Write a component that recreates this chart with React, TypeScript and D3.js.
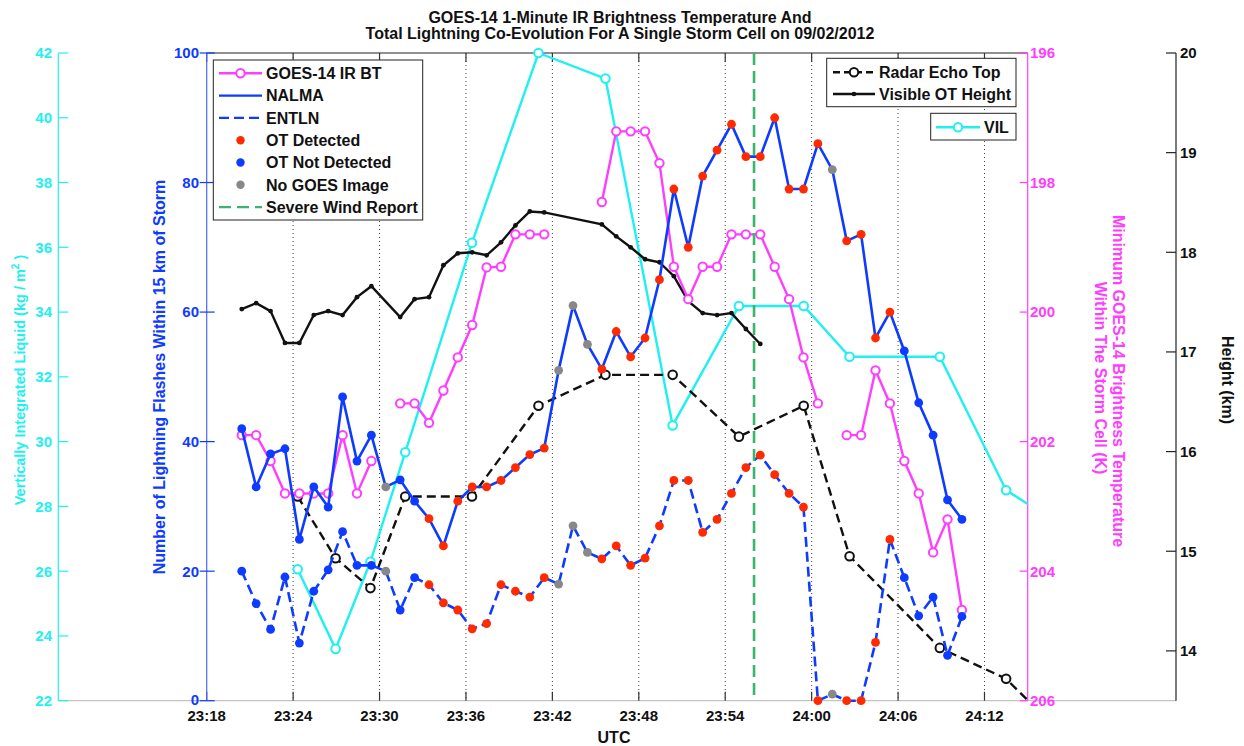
import React from 'react';
import * as d3 from 'd3';

// ---------- DATA ----------
const xTickLabels = ["23:18","23:24","23:30","23:36","23:42","23:48","23:54","24:00","24:06","24:12"];

// 1-minute GOES / lightning times
const minuteTimes = [
  "23:20:26","23:21:26","23:22:26","23:23:26","23:24:26","23:25:26","23:26:26","23:27:26","23:28:26","23:29:26",
  "23:30:26","23:31:26","23:32:26","23:33:26","23:34:26","23:35:26","23:36:26","23:37:26","23:38:26","23:39:26",
  "23:40:26","23:41:26","23:42:26","23:43:26","23:44:26","23:45:26","23:46:26","23:47:26","23:48:26","23:49:26",
  "23:50:26","23:51:26","23:52:26","23:53:26","23:54:26","23:55:26","23:56:26","23:57:26","23:58:26","23:59:26",
  "24:00:26","24:01:26","24:02:26","24:03:26","24:04:26","24:05:26","24:06:26","24:07:26","24:08:26","24:09:26",
  "24:10:26"
];

const nalma = [42.0,33.0,38.1,38.9,24.9,33.0,29.9,46.9,37.0,41.0,
  33.0,34.1,30.8,28.1,23.9,30.8,33.0,33.0,34.0,36.0,
  38.0,39.0,51.0,61.0,55.0,51.2,57.0,53.1,56.0,65.0,
  79.0,70.0,81.0,85.0,89.0,84.0,84.0,90.0,79.0,79.0,
  86.0,82.0,71.0,72.0,56.0,60.0,54.0,46.0,41.0,31.0,28.0];

const entln = [20.0,15.0,11.0,19.1,8.9,16.9,20.2,26.1,20.9,20.9,
  20.0,14.0,19.0,17.9,15.1,14.0,11.1,11.9,17.9,16.9,
  16.0,19.0,18.0,27.0,22.9,21.9,23.9,20.9,22.0,27.0,
  34.0,34.0,26.0,28.0,32.0,36.0,37.9,34.9,32.0,29.9,
  0.0,1.0,0.0,0.0,9.0,24.9,19.0,13.1,16.0,7.0,13.0];

// R = OT detected, B = OT not detected, G = no GOES image
const otStatus = ["B","B","B","B","B","B","B","B","B","B",
  "G","B","B","R","R","R","R","R","R","R",
  "R","R","G","G","G","R","R","R","R","R",
  "R","R","R","R","R","R","R","R","R","R",
  "R","G","R","R","R","R","B","B","B","B","B"];

const goesBT = [201.9,201.9,202.3,202.8,202.8,202.8,202.8,201.9,202.8,202.3,
  null,201.41,201.41,201.71,201.21,200.7,200.2,199.31,199.3,198.8,
  198.8,198.8,null,null,null,198.3,197.21,197.21,197.21,197.7,
  199.3,199.8,199.3,199.3,198.8,198.8,198.8,199.3,199.8,200.7,
  201.41,null,201.9,201.9,200.9,201.41,202.3,202.8,203.71,203.2,204.6];

const visibleOT = [17.43,17.49,17.41,17.09,17.09,17.37,17.41,17.37,17.55,17.66,
  null,17.35,17.53,17.55,17.87,17.99,18.0,17.97,18.10,18.27,
  18.41,18.40,null,null,null,18.28,18.16,18.05,17.93,17.90,
  17.76,17.51,17.39,17.37,17.39,17.23,17.08];

const radarTimes = ["23:24:19","23:26:57","23:29:22","23:31:47","23:36:25","23:41:02","23:45:41",
  "23:50:21","23:54:57","23:59:27","24:02:38","24:08:54","24:13:30","24:18:06"];
const echoTop = [15.55,14.93,14.63,15.55,15.55,16.46,16.77,16.77,16.15,16.46,14.95,14.03,13.72,13.06];
const vil = [26.06,23.6,26.29,29.67,36.14,42.0,41.21,30.5,34.19,34.19,32.62,32.62,28.5,27.2];

const windReportTime = "23:56:00";

const vilTicks = [22,24,26,28,30,32,34,36,38,40,42];
const flashTicks = [0,20,40,60,80,100];
const btTicks = [196,198,200,202,204,206];
const heightTicks = [14,15,16,17,18,19,20];

// ---------- STYLE ----------
const FONT = "'Liberation Sans', Arial, Helvetica, sans-serif";
const C_MAG = "#ff3dff";
const C_CYAN = "#1ff0f0";
const C_BLUE = "#0d3bff";
const C_RED = "#ff2a00";
const C_GRAY = "#888888";
const C_GREEN = "#3cb46e";
const statusColor: Record<string,string> = { R: C_RED, B: C_BLUE, G: C_GRAY };

function toMin(s: string) {
  const [h, m, sec] = s.split(":").map(Number);
  return h * 60 + m + (sec || 0) / 60 - (23 * 60 + 18);
}

const L = 206.7, R = 1027.7, T = 53, B = 700.7;

export default function App() {
  const x = d3.scaleLinear().domain([0, 57]).range([L, R]);
  const yF = d3.scaleLinear().domain([0, 100]).range([B, T]);
  const yV = d3.scaleLinear().domain([22, 42]).range([B, T]);
  const yBT = d3.scaleLinear().domain([196, 206]).range([T, B]);
  const yH = d3.scaleLinear().domain([13.5, 20]).range([B, T]);

  const mt = minuteTimes.map(toMin);
  const rt = radarTimes.map(toMin);
  const xTicks = xTickLabels.map(s => toMin(s));

  type P = { t: number; v: number | null };
  const mk = (ts: number[], vs: (number | null)[]): P[] => vs.map((v, i) => ({ t: ts[i], v }));

  const nalmaP = mk(mt, nalma);
  const entlnP = mk(mt, entln);
  const btP = mk(mt, goesBT);
  const otP = mk(mt, visibleOT).filter(d => d.v != null);
  const echoP = mk(rt, echoTop);
  const vilP = mk(rt, vil);

  const lineOf = (ys: d3.ScaleLinear<number, number>) =>
    d3.line<P>().defined(d => d.v != null).x(d => x(d.t)).y(d => ys(d.v as number));

  const inDom = (d: P) => d.v != null && d.t <= 57;
  const wx = x(toMin(windReportTime));

  const txt = { fontFamily: FONT, fontWeight: "bold" as const };

  const legendItem = (
    lx1: number, lx2: number, y: number, label: string,
    opts: { stroke?: string; dash?: string; marker?: "o" | "dot" | "small"; mcolor?: string; line?: boolean }
  ) => {
    const mx = (lx1 + lx2) / 2;
    return (
      <g key={label}>
        {opts.line !== false && opts.stroke && (
          <line x1={lx1} x2={lx2} y1={y} y2={y} stroke={opts.stroke} strokeWidth={2.4} strokeDasharray={opts.dash} />
        )}
        {opts.marker === "o" && <circle cx={mx} cy={y} r={4.2} fill="white" stroke={opts.mcolor} strokeWidth={2} />}
        {opts.marker === "dot" && <circle cx={mx} cy={y} r={4.2} fill={opts.mcolor} />}
        {opts.marker === "small" && <circle cx={mx} cy={y} r={2.3} fill={opts.mcolor} />}
        <text x={lx2 + 4} y={y} dy="0.36em" fontSize={16} fill="#111" {...txt}>{label}</text>
      </g>
    );
  };

  return (
    <svg width={1244} height={746} style={{ position: "absolute", left: 0, top: 0, background: "white" }}>
      <defs>
        <clipPath id="plotclip">
          <rect x={L} y={0} width={R - L} height={746} />
        </clipPath>
      </defs>
      <rect x={0} y={0} width={1244} height={746} fill="white" />

      {/* Title */}
      <text x={620} y={22.7} textAnchor="middle" fontSize={16} fill="#111" {...txt}>
        GOES-14 1-Minute IR Brightness Temperature And
      </text>
      <text x={620} y={39.3} textAnchor="middle" fontSize={16} fill="#111" {...txt}>
        Total Lightning Co-Evolution For A Single Storm Cell on 09/02/2012
      </text>

      {/* Grid lines */}
      {xTicks.slice(1).map((t, i) => (
        <line key={"g" + i} x1={x(t)} x2={x(t)} y1={T} y2={B} stroke="#444" strokeWidth={1} strokeDasharray="1,3" />
      ))}

      {/* bottom baseline (gray) & top border */}
      <line x1={58.3} x2={1176} y1={B} y2={B} stroke="#c4c4c4" strokeWidth={1.2} />
      <line x1={L} x2={R} y1={T} y2={T} stroke="#222" strokeWidth={1} />

      {/* x ticks */}
      {xTicks.map((t, i) => (
        <g key={"xt" + i}>
          <line x1={x(t)} x2={x(t)} y1={B} y2={B - 9} stroke="#333" strokeWidth={1.2} />
          <line x1={x(t)} x2={x(t)} y1={T} y2={T + 9} stroke="#333" strokeWidth={1.2} />
          <text x={x(t)} y={721} textAnchor="middle" fontSize={15} fill="#111" {...txt}>{xTickLabels[i]}</text>
        </g>
      ))}
      <text x={614} y={743} textAnchor="middle" fontSize={16} fill="#111" {...txt}>UTC</text>

      {/* VIL axis */}
      <line x1={58.3} x2={58.3} y1={T} y2={B} stroke={C_CYAN} strokeWidth={1.2} />
      {vilTicks.map(v => (
        <g key={"v" + v}>
          <line x1={58.3} x2={68.3} y1={yV(v)} y2={yV(v)} stroke={C_CYAN} strokeWidth={1.2} />
          <text x={52} y={yV(v)} dy="0.36em" textAnchor="end" fontSize={15} fill={C_CYAN} {...txt}>{v}</text>
        </g>
      ))}
      <text transform="translate(25,380) rotate(-90)" textAnchor="middle" fontSize={14.5} fill={C_CYAN} {...txt}>
        Vertically Integrated Liquid (kg / m<tspan fontSize={10} dy={-6}>2</tspan><tspan dy={6}> )</tspan>
      </text>

      {/* Flash axis */}
      <line x1={L} x2={L} y1={T} y2={B} stroke="#4b66ff" strokeWidth={1.2} />
      {flashTicks.map(v => (
        <g key={"f" + v}>
          <line x1={L - 7} x2={L + 8} y1={yF(v)} y2={yF(v)} stroke={C_BLUE} strokeWidth={1.2} />
          <text x={199} y={v === 0 ? yF(v) - 1 : yF(v)} dy="0.36em" textAnchor="end" fontSize={15} fill={C_BLUE} {...txt}>{v}</text>
        </g>
      ))}
      <text transform="translate(165,377) rotate(-90)" textAnchor="middle" fontSize={16} fill={C_BLUE} {...txt}>
        Number of Lightning Flashes Within 15 km of Storm
      </text>

      {/* BT axis */}
      <line x1={R} x2={R} y1={T} y2={B} stroke={C_MAG} strokeWidth={1.2} />
      {btTicks.map(v => (
        <g key={"b" + v}>
          <line x1={R - 8} x2={R} y1={yBT(v)} y2={yBT(v)} stroke={C_MAG} strokeWidth={1.2} />
          <text x={1030} y={yBT(v)} dy="0.36em" textAnchor="start" fontSize={15} fill={C_MAG} {...txt}>{v}</text>
        </g>
      ))}
      <text transform="translate(1113,381) rotate(90)" textAnchor="middle" fontSize={16} fill={C_MAG} {...txt}>
        Minimum GOES-14 Brightness Temperature
      </text>
      <text transform="translate(1095,378) rotate(90)" textAnchor="middle" fontSize={16} fill={C_MAG} {...txt}>
        Within The Storm Cell (K)
      </text>

      {/* Height axis */}
      <line x1={1176} x2={1176} y1={T} y2={B} stroke="#222" strokeWidth={1.2} />
      {heightTicks.map(v => (
        <g key={"h" + v}>
          <line x1={1166} x2={1176} y1={yH(v)} y2={yH(v)} stroke="#222" strokeWidth={1.2} />
          <text x={1180} y={yH(v)} dy="0.36em" textAnchor="start" fontSize={15} fill="#111" {...txt}>{v}</text>
        </g>
      ))}
      <text transform="translate(1222,380) rotate(90)" textAnchor="middle" fontSize={16} fill="#111" {...txt}>
        Height (km)
      </text>

      {/* VIL */}
      <path d={lineOf(yV)(vilP) || ""} fill="none" stroke={C_CYAN} strokeWidth={2.4} clipPath="url(#plotclip)" />
      {vilP.filter(inDom).map((d, i) => (
        <circle key={"vc" + i} cx={x(d.t)} cy={yV(d.v as number)} r={4.3} fill="white" stroke={C_CYAN} strokeWidth={2} />
      ))}

      {/* Radar echo top */}
      <path d={lineOf(yH)(echoP) || ""} fill="none" stroke="#111" strokeWidth={2.4} strokeDasharray="9,5" clipPath="url(#plotclip)" />
      {echoP.filter(inDom).map((d, i) => (
        <circle key={"ec" + i} cx={x(d.t)} cy={yH(d.v as number)} r={4.3} fill="white" stroke="#111" strokeWidth={2} />
      ))}

      {/* Visible OT height */}
      <path d={lineOf(yH)(otP) || ""} fill="none" stroke="#111" strokeWidth={2.4} />
      {otP.map((d, i) => (
        <circle key={"oc" + i} cx={x(d.t)} cy={yH(d.v as number)} r={2.4} fill="#111" />
      ))}

      {/* GOES BT */}
      <path d={lineOf(yBT)(btP) || ""} fill="none" stroke={C_MAG} strokeWidth={2.4} />
      {btP.filter(inDom).map((d, i) => (
        <circle key={"bc" + i} cx={x(d.t)} cy={yBT(d.v as number)} r={4.2} fill="white" stroke={C_MAG} strokeWidth={2} />
      ))}

      {/* ENTLN */}
      <path d={lineOf(yF)(entlnP) || ""} fill="none" stroke={C_BLUE} strokeWidth={2.6} strokeDasharray="10,5" />
      {entlnP.map((d, i) => (
        <circle key={"en" + i} cx={x(d.t)} cy={yF(d.v as number)} r={4.4} fill={statusColor[otStatus[i]]} />
      ))}

      {/* NALMA */}
      <path d={lineOf(yF)(nalmaP) || ""} fill="none" stroke={C_BLUE} strokeWidth={2.6} />
      {nalmaP.map((d, i) => (
        <circle key={"na" + i} cx={x(d.t)} cy={yF(d.v as number)} r={4.4} fill={statusColor[otStatus[i]]} />
      ))}

      {/* Severe wind report */}
      <line x1={wx} x2={wx} y1={T} y2={B} stroke={C_GREEN} strokeWidth={2.6} strokeDasharray="12,6" />

      {/* Legend 1 */}
      <rect x={213.3} y={60} width={209.4} height={160} fill="white" stroke="#222" strokeWidth={1} />
      {legendItem(219, 262, 73.3, "GOES-14 IR BT", { stroke: C_MAG, marker: "o", mcolor: C_MAG })}
      {legendItem(219, 262, 95.6, "NALMA", { stroke: C_BLUE })}
      {legendItem(219, 262, 117.9, "ENTLN", { stroke: C_BLUE, dash: "10,5" })}
      {legendItem(219, 262, 140.2, "OT Detected", { marker: "dot", mcolor: C_RED })}
      {legendItem(219, 262, 162.5, "OT Not Detected", { marker: "dot", mcolor: C_BLUE })}
      {legendItem(219, 262, 184.8, "No GOES Image", { marker: "dot", mcolor: C_GRAY })}
      {legendItem(219, 262, 207.1, "Severe Wind Report", { stroke: C_GREEN, dash: "12,6" })}

      {/* Legend 2 */}
      <rect x={826.7} y={58.3} width={189.3} height={48.4} fill="white" stroke="#222" strokeWidth={1} />
      {legendItem(833, 875, 72.3, "Radar Echo Top", { stroke: "#111", dash: "7,4", marker: "o", mcolor: "#111" })}
      {legendItem(833, 875, 94, "Visible OT Height", { stroke: "#111", marker: "small", mcolor: "#111" })}

      {/* Legend 3 */}
      <rect x={930.7} y={113.3} width={85.3} height={26.7} fill="white" stroke="#222" strokeWidth={1} />
      {legendItem(936, 980, 127.3, "VIL", { stroke: C_CYAN, marker: "o", mcolor: C_CYAN })}
    </svg>
  );
}
